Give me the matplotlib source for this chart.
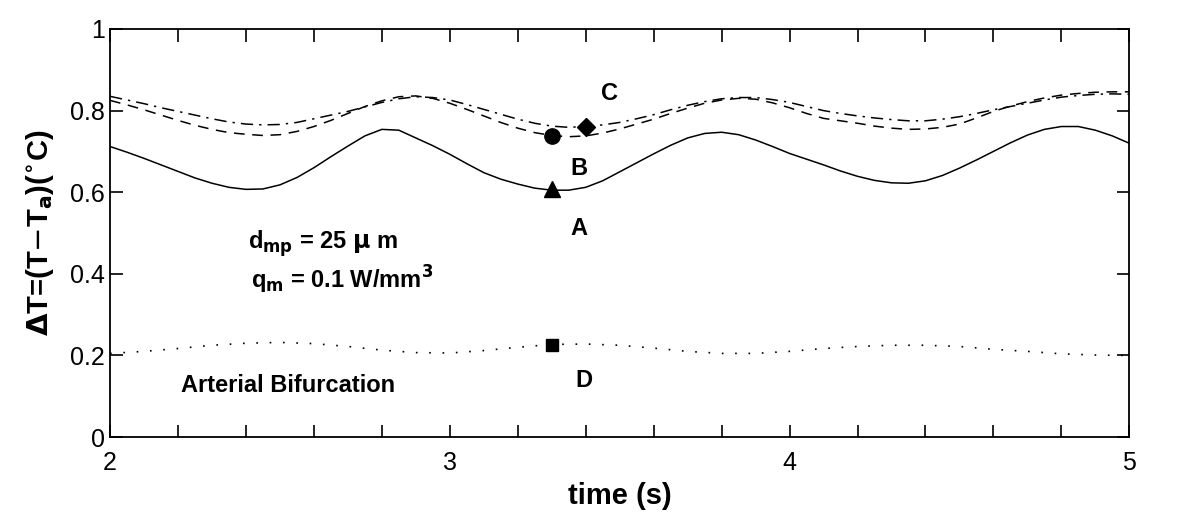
import matplotlib.pyplot as plt
from matplotlib.ticker import MultipleLocator

plt.rcParams['font.family'] = ['Liberation Sans', 'DejaVu Sans']

# time axis for the upper curves, every 0.05 s
t = [round(2 + 0.05 * i, 2) for i in range(61)]

curve_a = [0.712, 0.698, 0.683, 0.667, 0.651, 0.635, 0.622, 0.612, 0.607, 0.608,
           0.618, 0.636, 0.660, 0.687, 0.713, 0.738, 0.754, 0.752, 0.733, 0.714,
           0.693, 0.670, 0.648, 0.632, 0.620, 0.610, 0.605, 0.605, 0.612, 0.628,
           0.650, 0.672, 0.694, 0.715, 0.733, 0.744, 0.747, 0.741, 0.728, 0.712,
           0.695, 0.681, 0.667, 0.652, 0.639, 0.629, 0.623, 0.622, 0.628, 0.641,
           0.659, 0.679, 0.700, 0.721, 0.740, 0.754, 0.761, 0.761, 0.752, 0.738,
           0.720]

curve_b = [0.825, 0.814, 0.802, 0.789, 0.776, 0.764, 0.754, 0.746, 0.742, 0.739,
           0.741, 0.749, 0.761, 0.776, 0.793, 0.810, 0.824, 0.834, 0.836, 0.830,
           0.818, 0.803, 0.787, 0.771, 0.757, 0.746, 0.739, 0.736, 0.738, 0.745,
           0.755, 0.767, 0.779, 0.793, 0.806, 0.818, 0.826, 0.830, 0.828, 0.819,
           0.807, 0.793, 0.781, 0.775, 0.769, 0.762, 0.757, 0.754, 0.755, 0.759,
           0.767, 0.782, 0.798, 0.811, 0.822, 0.831, 0.838, 0.842, 0.845, 0.846,
           0.846]

curve_c = [0.835, 0.826, 0.817, 0.807, 0.798, 0.789, 0.780, 0.772, 0.767, 0.765,
           0.766, 0.771, 0.780, 0.789, 0.798, 0.809, 0.820, 0.829, 0.834, 0.832,
           0.826, 0.815, 0.803, 0.791, 0.779, 0.769, 0.762, 0.759, 0.761, 0.765,
           0.771, 0.780, 0.790, 0.802, 0.813, 0.822, 0.829, 0.832, 0.832, 0.827,
           0.820, 0.810, 0.800, 0.793, 0.787, 0.782, 0.778, 0.775, 0.775, 0.779,
           0.785, 0.793, 0.802, 0.810, 0.818, 0.826, 0.833, 0.837, 0.840, 0.841,
           0.840]

# lower curve, every 0.1 s
t_d = [round(2 + 0.1 * i, 1) for i in range(31)]
curve_d = [0.205, 0.210, 0.217, 0.225, 0.230, 0.232, 0.229, 0.222, 0.213, 0.207,
           0.206, 0.212, 0.220, 0.227, 0.228, 0.225, 0.218, 0.210, 0.205, 0.205,
           0.210, 0.217, 0.222, 0.225, 0.225, 0.222, 0.215, 0.210, 0.204, 0.201,
           0.200]

# marked points: (time, value, marker)
points = [(3.3, 0.607, '^'), (3.3, 0.737, 'o'), (3.4, 0.761, 'D'), (3.3, 0.225, 's')]
point_sizes = [11, 11, 9, 8]

# point labels
labels = ['C', 'B', 'A', 'D']
label_x = [3.445, 3.355, 3.355, 3.37]
label_y = [0.841, 0.659, 0.512, 0.139]

fig = plt.figure(figsize=(12, 5.13), dpi=100)
ax = fig.add_axes([0.0917, 0.148, 0.8494, 0.7955])

ax.plot(t, curve_a, '-', color='black', lw=1.1)
ax.plot(t, curve_b, color='black', lw=1.1, dashes=(7, 5))
ax.plot(t, curve_c, color='black', lw=1.1, dashes=(8, 4, 1.5, 4))
ax.plot(t_d, curve_d, color='black', lw=1.2, dashes=(1, 7))

for (px, py, m), s in zip(points, point_sizes):
    ax.plot(px, py, marker=m, color='black', markersize=s, linestyle='none')

for lab, lx, ly in zip(labels, label_x, label_y):
    ax.text(lx, ly, lab, fontsize=17, fontweight='bold', ha='left', va='center')

ax.text(2.21, 0.127, 'Arterial Bifurcation', fontsize=17, fontweight='bold',
        ha='left', va='center')
ax.text(2.405, 0.475, r'd$_{\mathbf{mp}}$ = 25 $\mathbf{\mu}$ m', fontsize=17,
        fontweight='bold', ha='left', va='center')
ax.text(2.415, 0.385, r'q$_{\mathbf{m}}$ = 0.1 W/mm$^{\mathbf{3}}$', fontsize=17,
        fontweight='bold', ha='left', va='center')

ax.set_xlim(2, 5)
ax.set_ylim(0, 1)
ax.xaxis.set_major_locator(MultipleLocator(1))
ax.xaxis.set_minor_locator(MultipleLocator(0.2))
ax.set_yticks([0, 0.2, 0.4, 0.6, 0.8, 1.0])
ax.set_yticklabels(['0', '0.2', '0.4', '0.6', '0.8', '1'])
ax.tick_params(which='both', direction='in', top=True, right=True,
               length=9, width=1.2, labelsize=18)
ax.tick_params(axis='x', pad=10)
for sp in ax.spines.values():
    sp.set_linewidth(1.3)

ax.set_xlabel('time (s)', fontsize=21, fontweight='bold', labelpad=5)
ax.set_ylabel(r'$\mathbf{\Delta}$T=(T$-$T$_{\mathbf{a}}$)($\mathbf{^{\circ}}$C)',
              fontsize=21, fontweight='bold', labelpad=10)

fig.savefig('out.png', dpi=100)
